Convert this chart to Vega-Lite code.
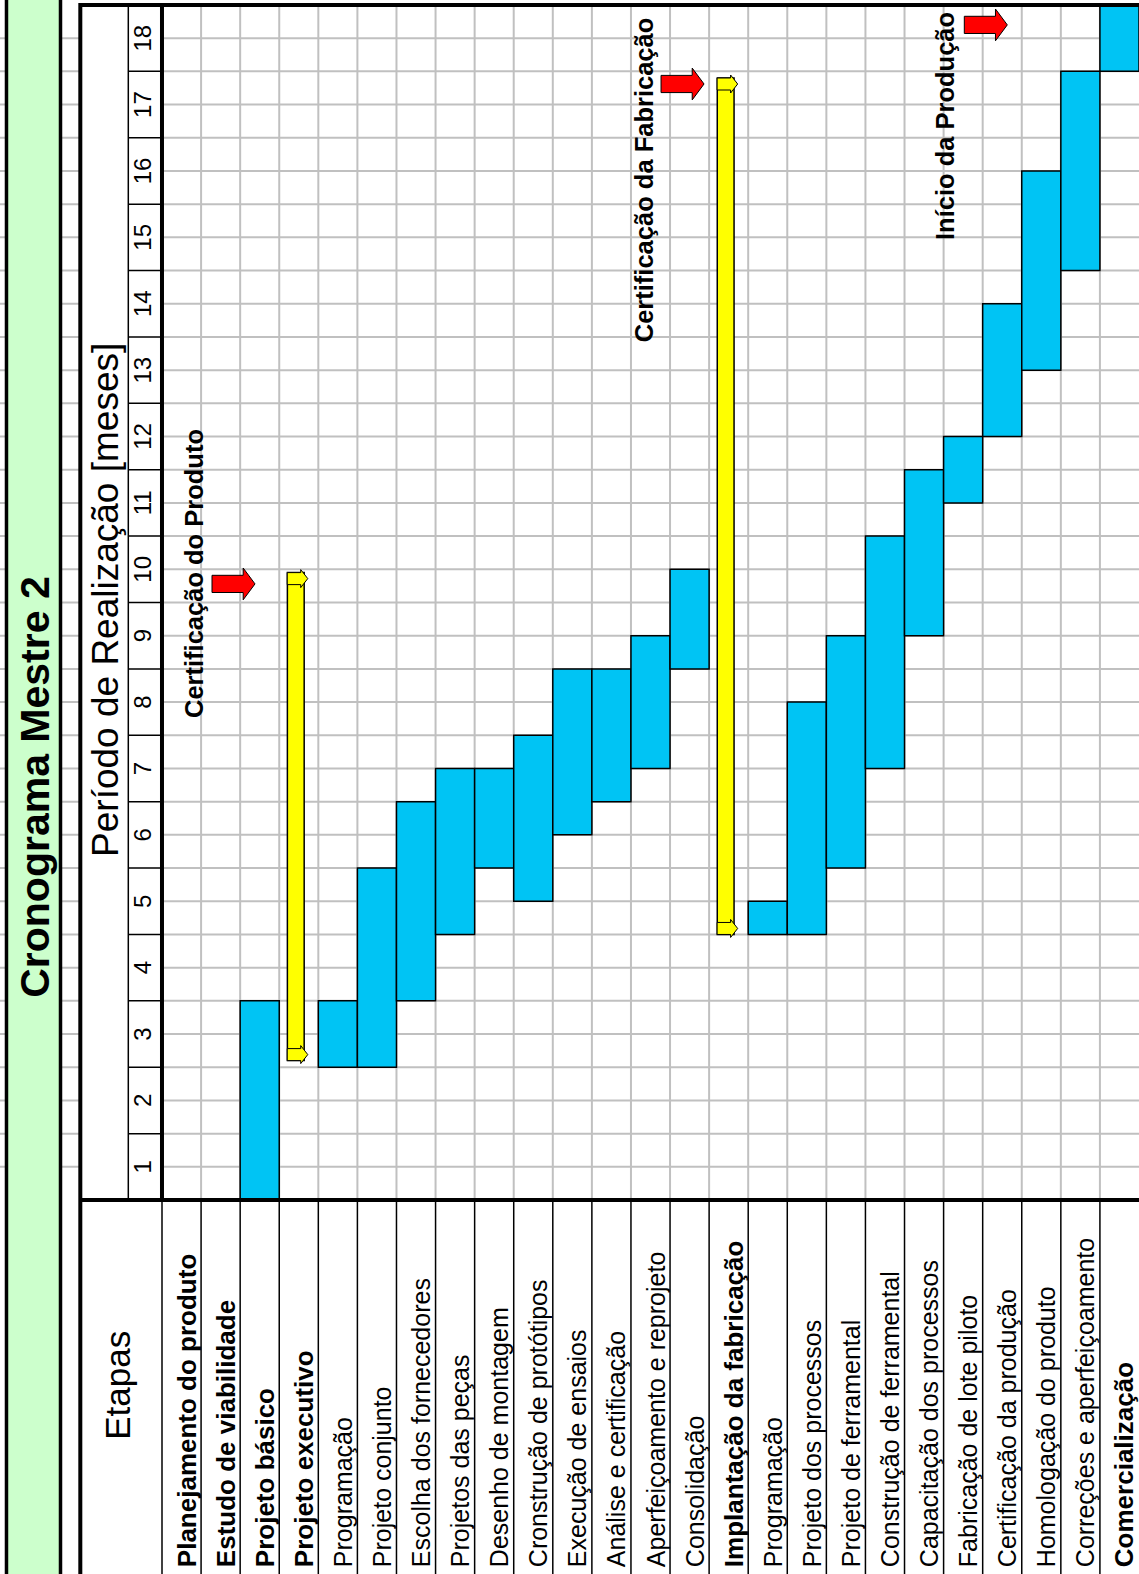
{
  "$schema": "https://vega.github.io/schema/vega-lite/v6.json",
  "width": 1139,
  "height": 1574,
  "padding": 0,
  "autosize": {"type": "none"},
  "background": "white",
  "config": {"view": {"stroke": null}, "font": "Liberation Sans", "text": {"font": "Liberation Sans"}},
  "datasets": {
    "tasks": [
      {"n": 0, "task": "Planejamento do produto", "bold": true, "kind": "none", "start": null, "end": null},
      {"n": 1, "task": "Estudo de viabilidade", "bold": true, "kind": "none", "start": null, "end": null},
      {"n": 2, "task": "Projeto básico", "bold": true, "kind": "bar", "start": 0, "end": 3},
      {"n": 3, "task": "Projeto executivo", "bold": true, "kind": "yellow", "start": 2.1, "end": 9.45},
      {"n": 4, "task": "Programação", "bold": false, "kind": "bar", "start": 2, "end": 3},
      {"n": 5, "task": "Projeto conjunto", "bold": false, "kind": "bar", "start": 2, "end": 5},
      {"n": 6, "task": "Escolha dos fornecedores", "bold": false, "kind": "bar", "start": 3, "end": 6},
      {"n": 7, "task": "Projetos das peças", "bold": false, "kind": "bar", "start": 4, "end": 6.5},
      {"n": 8, "task": "Desenho de montagem", "bold": false, "kind": "bar", "start": 5, "end": 6.5},
      {"n": 9, "task": "Cronstrução de protótipos", "bold": false, "kind": "bar", "start": 4.5, "end": 7},
      {"n": 10, "task": "Execução de ensaios", "bold": false, "kind": "bar", "start": 5.5, "end": 8},
      {"n": 11, "task": "Análise e certificação", "bold": false, "kind": "bar", "start": 6, "end": 8},
      {"n": 12, "task": "Aperfeiçoamento e reprojeto", "bold": false, "kind": "bar", "start": 6.5, "end": 8.5},
      {"n": 13, "task": "Consolidação", "bold": false, "kind": "bar", "start": 8, "end": 9.5},
      {"n": 14, "task": "Implantação da fabricação", "bold": true, "kind": "yellow", "start": 4.0, "end": 16.9},
      {"n": 15, "task": "Programação", "bold": false, "kind": "bar", "start": 4, "end": 4.5},
      {"n": 16, "task": "Projeto dos processos", "bold": false, "kind": "bar", "start": 4, "end": 7.5},
      {"n": 17, "task": "Projeto de ferramental", "bold": false, "kind": "bar", "start": 5, "end": 8.5},
      {"n": 18, "task": "Construção de ferramental", "bold": false, "kind": "bar", "start": 6.5, "end": 10},
      {"n": 19, "task": "Capacitação dos processos", "bold": false, "kind": "bar", "start": 8.5, "end": 11},
      {"n": 20, "task": "Fabricação de lote piloto", "bold": false, "kind": "bar", "start": 10.5, "end": 11.5},
      {"n": 21, "task": "Certificação da produção", "bold": false, "kind": "bar", "start": 11.5, "end": 13.5},
      {"n": 22, "task": "Homologação do produto", "bold": false, "kind": "bar", "start": 12.5, "end": 15.5},
      {"n": 23, "task": "Correções e aperfeiçoamento", "bold": false, "kind": "bar", "start": 14, "end": 17},
      {"n": 24, "task": "Comercialização", "bold": true, "kind": "bar", "start": 17, "end": 18}
    ],
    "months": [
      {"m": 1}, {"m": 2}, {"m": 3}, {"m": 4}, {"m": 5}, {"m": 6}, {"m": 7}, {"m": 8}, {"m": 9},
      {"m": 10}, {"m": 11}, {"m": 12}, {"m": 13}, {"m": 14}, {"m": 15}, {"m": 16}, {"m": 17}, {"m": 18}
    ],
    "notes": [
      {"note": "Certificação do Produto", "tx": 0.855, "ty": 7.26, "ax": 1.83, "ay": 9.28},
      {"note": "Certificação da Fabricação", "tx": 12.36, "ty": 12.92, "ax": 13.32, "ay": 16.81},
      {"note": "Início da Produção", "tx": 20.05, "ty": 14.46, "ax": 21.08, "ay": 17.70}
    ]
  },
  "layer": [
    {
      "data": {"name": "months"},
      "transform": [{"filter": "datum.m < 18"}],
      "mark": {"type": "rule", "color": "#c0c0c0", "strokeWidth": 2},
      "encoding": {
        "x": {"datum": -4.2, "type": "quantitative", "scale": {"domain": [-4.145, 25], "nice": false, "zero": false}, "axis": null},
        "x2": {"datum": 25.5},
        "y": {"field": "m", "type": "quantitative", "scale": {"domain": [-5.633, 18.075], "nice": false, "zero": false}, "axis": null}
      }
    },
    {
      "data": {"name": "months"},
      "mark": {"type": "rule", "color": "#c0c0c0", "strokeWidth": 2, "yOffset": 33.2},
      "encoding": {
        "x": {"datum": -4.2, "type": "quantitative", "scale": {"domain": [-4.145, 25], "nice": false, "zero": false}, "axis": null},
        "x2": {"datum": 25.5},
        "y": {"field": "m", "type": "quantitative", "axis": null}
      }
    },
    {
      "data": {"name": "tasks"},
      "mark": {"type": "rule", "color": "#c0c0c0", "strokeWidth": 2},
      "encoding": {
        "x": {"field": "n", "type": "ordinal", "bandPosition": 0, "scale": {"type": "band", "domain": [0,1,2,3,4,5,6,7,8,9,10,11,12,13,14,15,16,17,18,19,20,21,22,23,24], "range": [162, 1139], "paddingInner": 0, "paddingOuter": 0}, "axis": null},
        "y": {"datum": 0, "type": "quantitative", "axis": null},
        "y2": {"datum": 18}
      }
    },
    {
      "data": {"values": [{}]},
      "mark": {"type": "rect", "fill": "#CCFFCC", "stroke": "black", "strokeWidth": 3.5},
      "encoding": {
        "x": {"datum": -3.979, "type": "quantitative", "scale": {"domain": [-4.145, 25], "nice": false, "zero": false}, "axis": null},
        "x2": {"datum": -2.597},
        "y": {"datum": -6, "type": "quantitative", "axis": null},
        "y2": {"datum": 19}
      }
    },
    {
      "data": {"values": [{}]},
      "mark": {"type": "rect", "fill": "white"},
      "encoding": {
        "x": {"datum": -2.09, "type": "quantitative", "scale": {"domain": [-4.145, 25], "nice": false, "zero": false}, "axis": null},
        "x2": {"datum": 0},
        "y": {"datum": 0, "type": "quantitative", "axis": null},
        "y2": {"datum": 18}
      }
    },
    {
      "data": {"name": "tasks"},
      "transform": [{"filter": "datum.kind === 'bar'"}],
      "mark": {"type": "bar", "fill": "#00C4F4", "stroke": "black", "strokeWidth": 1.5},
      "encoding": {
        "x": {"field": "n", "type": "ordinal", "scale": {"type": "band", "domain": [0,1,2,3,4,5,6,7,8,9,10,11,12,13,14,15,16,17,18,19,20,21,22,23,24], "range": [162, 1139], "paddingInner": 0, "paddingOuter": 0}, "axis": null},
        "y": {"field": "start", "type": "quantitative", "axis": null},
        "y2": {"field": "end"}
      }
    },
    {
      "data": {"name": "tasks"},
      "mark": {"type": "rule", "color": "black", "strokeWidth": 1.5},
      "encoding": {
        "x": {"field": "n", "type": "ordinal", "bandPosition": 0, "scale": {"type": "band", "domain": [0,1,2,3,4,5,6,7,8,9,10,11,12,13,14,15,16,17,18,19,20,21,22,23,24], "range": [162, 1139], "paddingInner": 0, "paddingOuter": 0}, "axis": null},
        "y": {"datum": -6, "type": "quantitative", "axis": null},
        "y2": {"datum": 0}
      }
    },
    {
      "data": {"name": "tasks"},
      "transform": [{"filter": "datum.kind === 'yellow'"}],
      "mark": {"type": "bar", "fill": "#FFFF00", "stroke": "black", "strokeWidth": 1.5, "width": {"band": 0.43}, "xOffset": -3},
      "encoding": {
        "x": {"field": "n", "type": "ordinal", "scale": {"type": "band", "domain": [0,1,2,3,4,5,6,7,8,9,10,11,12,13,14,15,16,17,18,19,20,21,22,23,24], "range": [162, 1139], "paddingInner": 0, "paddingOuter": 0}, "axis": null},
        "y": {"field": "start", "type": "quantitative", "axis": null},
        "y2": {"field": "end"}
      }
    },
    {
      "data": {"name": "tasks"},
      "transform": [{"filter": "datum.kind === 'yellow'"}],
      "mark": {"type": "point", "shape": "M-0.57,0 L0.33,0 L0.33,-0.2 L0.8,0.4 L0.33,1 L0.33,0.8 L-0.57,0.8 Z", "size": 900, "filled": true, "fill": "#FFFF00", "stroke": "black", "strokeWidth": 1, "opacity": 1, "xOffset": -3},
      "encoding": {
        "x": {"field": "n", "type": "ordinal", "scale": {"type": "band", "domain": [0,1,2,3,4,5,6,7,8,9,10,11,12,13,14,15,16,17,18,19,20,21,22,23,24], "range": [162, 1139], "paddingInner": 0, "paddingOuter": 0}, "axis": null},
        "y": {"field": "end", "type": "quantitative", "axis": null}
      }
    },
    {
      "data": {"name": "tasks"},
      "transform": [{"filter": "datum.kind === 'yellow'"}],
      "mark": {"type": "point", "shape": "M-0.57,-0.8 L0.33,-0.8 L0.33,-1 L0.8,-0.4 L0.33,0.2 L0.33,0 L-0.57,0 Z", "size": 900, "filled": true, "fill": "#FFFF00", "stroke": "black", "strokeWidth": 1, "opacity": 1, "xOffset": -3},
      "encoding": {
        "x": {"field": "n", "type": "ordinal", "scale": {"type": "band", "domain": [0,1,2,3,4,5,6,7,8,9,10,11,12,13,14,15,16,17,18,19,20,21,22,23,24], "range": [162, 1139], "paddingInner": 0, "paddingOuter": 0}, "axis": null},
        "y": {"field": "start", "type": "quantitative", "axis": null}
      }
    },
    {
      "data": {"name": "tasks"},
      "transform": [{"filter": "!datum.bold"}],
      "mark": {"type": "text", "angle": 270, "align": "left", "baseline": "middle", "dy": 6, "fontSize": 25, "font": "Liberation Sans", "color": "black"},
      "encoding": {
        "x": {"field": "n", "type": "ordinal", "scale": {"type": "band", "domain": [0,1,2,3,4,5,6,7,8,9,10,11,12,13,14,15,16,17,18,19,20,21,22,23,24], "range": [162, 1139], "paddingInner": 0, "paddingOuter": 0}, "axis": null},
        "y": {"datum": -5.53, "type": "quantitative", "axis": null},
        "text": {"field": "task"}
      }
    },
    {
      "data": {"name": "tasks"},
      "transform": [{"filter": "datum.bold"}],
      "mark": {"type": "text", "angle": 270, "align": "left", "baseline": "middle", "dy": 6, "fontSize": 26, "fontWeight": "bold", "font": "Liberation Sans", "color": "black"},
      "encoding": {
        "x": {"field": "n", "type": "ordinal", "scale": {"type": "band", "domain": [0,1,2,3,4,5,6,7,8,9,10,11,12,13,14,15,16,17,18,19,20,21,22,23,24], "range": [162, 1139], "paddingInner": 0, "paddingOuter": 0}, "axis": null},
        "y": {"datum": -5.53, "type": "quantitative", "axis": null},
        "text": {"field": "task"}
      }
    },
    {
      "data": {"values": [{}]},
      "mark": {"type": "rule", "color": "black", "strokeWidth": 4},
      "encoding": {
        "x": {"datum": -2.09, "type": "quantitative", "scale": {"domain": [-4.145, 25], "nice": false, "zero": false}, "axis": null},
        "y": {"datum": -6, "type": "quantitative", "axis": null},
        "y2": {"datum": 18.03}
      }
    },
    {
      "data": {"values": [{}]},
      "mark": {"type": "rule", "color": "black", "strokeWidth": 4},
      "encoding": {
        "x": {"datum": -2.09, "type": "quantitative", "scale": {"domain": [-4.145, 25], "nice": false, "zero": false}, "axis": null},
        "x2": {"datum": 25.5},
        "y": {"datum": 18, "type": "quantitative", "axis": null}
      }
    },
    {
      "data": {"values": [{}]},
      "mark": {"type": "rule", "color": "black", "strokeWidth": 4},
      "encoding": {
        "x": {"datum": -2.09, "type": "quantitative", "scale": {"domain": [-4.145, 25], "nice": false, "zero": false}, "axis": null},
        "x2": {"datum": 25.5},
        "y": {"datum": 0, "type": "quantitative", "axis": null}
      }
    },
    {
      "data": {"values": [{}]},
      "mark": {"type": "rule", "color": "black", "strokeWidth": 4},
      "encoding": {
        "x": {"datum": 0, "type": "quantitative", "scale": {"domain": [-4.145, 25], "nice": false, "zero": false}, "axis": null},
        "y": {"datum": 0, "type": "quantitative", "axis": null},
        "y2": {"datum": 18}
      }
    },
    {
      "data": {"values": [{}]},
      "mark": {"type": "rule", "color": "black", "strokeWidth": 1.5},
      "encoding": {
        "x": {"datum": -0.862, "type": "quantitative", "scale": {"domain": [-4.145, 25], "nice": false, "zero": false}, "axis": null},
        "y": {"datum": 0, "type": "quantitative", "axis": null},
        "y2": {"datum": 18}
      }
    },
    {
      "data": {"name": "months"},
      "transform": [{"filter": "datum.m < 18"}],
      "mark": {"type": "rule", "color": "black", "strokeWidth": 1.5},
      "encoding": {
        "x": {"datum": -0.862, "type": "quantitative", "scale": {"domain": [-4.145, 25], "nice": false, "zero": false}, "axis": null},
        "x2": {"datum": 0},
        "y": {"field": "m", "type": "quantitative", "axis": null}
      }
    },
    {
      "data": {"name": "months"},
      "mark": {"type": "text", "angle": 270, "align": "center", "baseline": "middle", "dx": -33.2, "fontSize": 24, "font": "Liberation Sans", "color": "black"},
      "encoding": {
        "x": {"datum": -0.45, "type": "quantitative", "scale": {"domain": [-4.145, 25], "nice": false, "zero": false}, "axis": null},
        "y": {"field": "m", "type": "quantitative", "axis": null},
        "text": {"field": "m"}
      }
    },
    {
      "data": {"values": [{"label": "Cronograma Mestre 2"}]},
      "mark": {"type": "text", "angle": 270, "align": "center", "baseline": "middle", "fontSize": 41, "fontWeight": "bold", "font": "Liberation Sans", "color": "black"},
      "encoding": {
        "x": {"datum": -3.2, "type": "quantitative", "scale": {"domain": [-4.145, 25], "nice": false, "zero": false}, "axis": null},
        "y": {"datum": 6.22, "type": "quantitative", "axis": null},
        "text": {"field": "label"}
      }
    },
    {
      "data": {"values": [{"label": "Período de Realização [meses]"}]},
      "mark": {"type": "text", "angle": 270, "align": "center", "baseline": "middle", "fontSize": 37, "font": "Liberation Sans", "color": "black"},
      "encoding": {
        "x": {"datum": -1.41, "type": "quantitative", "scale": {"domain": [-4.145, 25], "nice": false, "zero": false}, "axis": null},
        "y": {"datum": 9.04, "type": "quantitative", "axis": null},
        "text": {"field": "label"}
      }
    },
    {
      "data": {"values": [{"label": "Etapas"}]},
      "mark": {"type": "text", "angle": 270, "align": "center", "baseline": "middle", "fontSize": 35, "font": "Liberation Sans", "color": "black"},
      "encoding": {
        "x": {"datum": -1.1, "type": "quantitative", "scale": {"domain": [-4.145, 25], "nice": false, "zero": false}, "axis": null},
        "y": {"datum": -2.79, "type": "quantitative", "axis": null},
        "text": {"field": "label"}
      }
    },
    {
      "data": {"name": "notes"},
      "mark": {"type": "text", "angle": 270, "align": "left", "baseline": "middle", "fontSize": 25.5, "fontWeight": "bold", "font": "Liberation Sans", "color": "black"},
      "encoding": {
        "x": {"field": "tx", "type": "quantitative", "scale": {"domain": [-4.145, 25], "nice": false, "zero": false}, "axis": null},
        "y": {"field": "ty", "type": "quantitative", "axis": null},
        "text": {"field": "note"}
      }
    },
    {
      "data": {"name": "notes"},
      "mark": {"type": "point", "shape": "M-1,-0.4 L0.45,-0.4 L0.45,-0.74 L1,0 L0.45,0.74 L0.45,0.4 L-1,0.4 Z", "size": 1849, "filled": true, "fill": "#FF0000", "stroke": "black", "strokeWidth": 1, "opacity": 1},
      "encoding": {
        "x": {"field": "ax", "type": "quantitative", "scale": {"domain": [-4.145, 25], "nice": false, "zero": false}, "axis": null},
        "y": {"field": "ay", "type": "quantitative", "axis": null}
      }
    }
  ],
  "resolve": {"scale": {"x": "independent"}}
}
